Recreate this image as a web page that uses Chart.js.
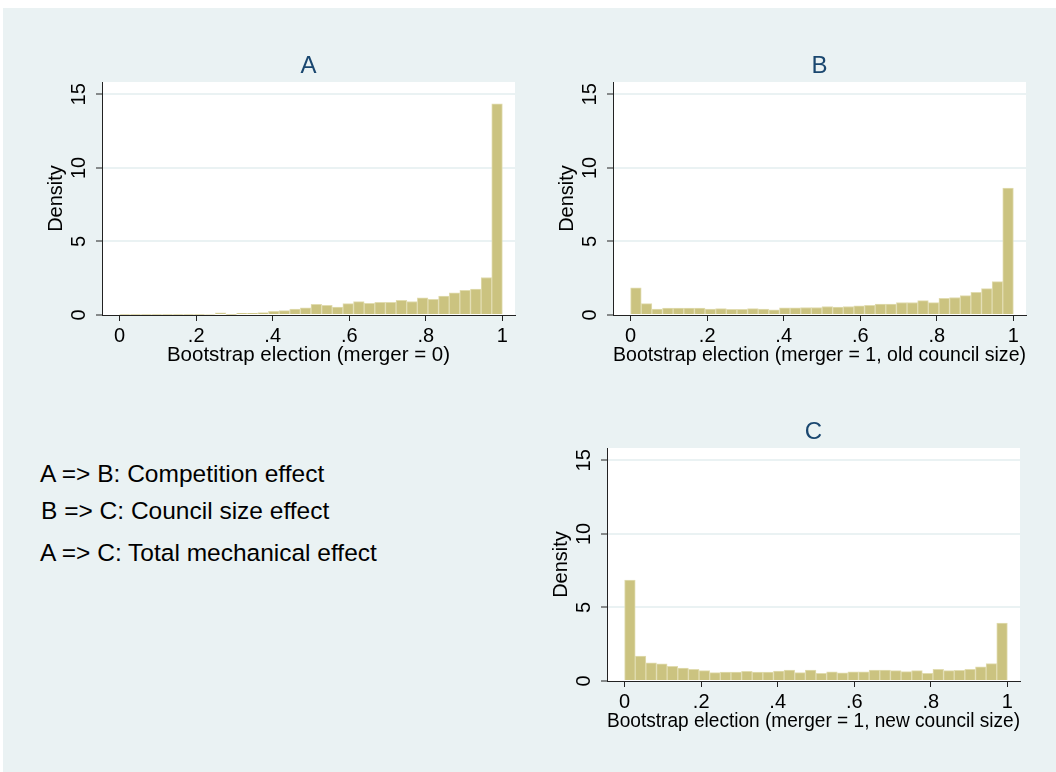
<!DOCTYPE html>
<html>
<head>
<meta charset="utf-8">
<script src="https://cdn.jsdelivr.net/npm/chart.js@4.4.1/dist/chart.umd.min.js"></script>
<style>
  html, body { margin: 0; padding: 0; background: #fff; }
  #page { position: relative; width: 1056px; height: 772px; overflow: hidden; }
  #bg { position: absolute; left: 3px; top: 8px; right: 0; bottom: 0; background: #eaf2f3; }
  canvas { position: absolute; }
  .note { position: absolute; font-family: 'Liberation Sans', Arial, sans-serif; font-size: 24.5px;
          line-height: 24.5px; color: #000; white-space: nowrap; }
</style>
</head>
<body>
<div id="page">
  <div id="bg"></div>
  <canvas id="histA" width="510" height="350" style="left:20px;top:30px"></canvas>
  <canvas id="histB" width="510" height="350" style="left:531px;top:30px"></canvas>
  <canvas id="histC" width="510" height="350" style="left:525px;top:396px"></canvas>
  <div class="note" style="left:40px;top:462px">A =&gt; B: Competition effect</div>
  <div class="note" style="left:41px;top:499px">B =&gt; C: Council size effect</div>
  <div class="note" style="left:40px;top:541px">A =&gt; C: Total mechanical effect</div>
</div>
<script>
// 36 equal bins on [0, 1]
const binCount = 36;
const binCenters = Array.from({ length: binCount }, (_, i) => (i + 0.5) / binCount);

const densityA = [0.04, 0.04, 0.04, 0.04, 0.04, 0.04, 0.04, 0.04, 0.05, 0.14, 0.04, 0.11,
                  0.11, 0.16, 0.25, 0.30, 0.41, 0.49, 0.72, 0.66, 0.53, 0.77, 0.91, 0.79,
                  0.86, 0.86, 1.00, 0.92, 1.16, 1.06, 1.29, 1.51, 1.68, 1.77, 2.55, 14.35];
const densityB = [1.84, 0.77, 0.41, 0.47, 0.47, 0.47, 0.47, 0.40, 0.43, 0.38, 0.38, 0.43,
                  0.40, 0.35, 0.48, 0.48, 0.51, 0.51, 0.58, 0.53, 0.58, 0.63, 0.66, 0.75,
                  0.75, 0.85, 0.85, 0.98, 0.84, 1.13, 1.19, 1.32, 1.54, 1.79, 2.27, 8.62];
const densityC = [6.86, 1.69, 1.23, 1.17, 1.00, 0.88, 0.79, 0.71, 0.57, 0.61, 0.61, 0.66,
                  0.61, 0.61, 0.67, 0.75, 0.57, 0.75, 0.52, 0.62, 0.56, 0.62, 0.62, 0.74,
                  0.74, 0.70, 0.64, 0.70, 0.52, 0.79, 0.70, 0.73, 0.79, 0.97, 1.18, 3.93];

const xTickValues = [0, 0.2, 0.4, 0.6, 0.8, 1];
const xTickLabels = ['0', '.2', '.4', '.6', '.8', '1'];
const yTickValues = [0, 5, 10, 15];
const yTickLabels = ['0', '5', '10', '15'];

const X_MIN = -0.046, X_MAX = 1.033, Y_MAX = 15.84;

const barFill   = 'rgb(203,195,128)';
const barEdge   = 'rgb(225,220,176)';
const gridColor = '#eaf2f3';
const axisColor = '#222';
const titleNavy = '#1a476f';

Chart.defaults.font.family = "'Liberation Sans', Arial, sans-serif";
Chart.defaults.color = '#000';

// white plot region, rotated y labels and the panel letter (Stata look)
const stataLook = {
  id: 'stataLook',
  beforeDraw(chart) {
    const { ctx, chartArea: a } = chart;
    ctx.save();
    ctx.fillStyle = '#fff';
    ctx.fillRect(a.left, a.top, a.right - a.left, a.bottom - a.top);
    ctx.restore();
  },
  afterDraw(chart, args, opts) {
    const { ctx, chartArea: a } = chart;
    const y = chart.scales.y;
    ctx.save();
    ctx.fillStyle = '#000';
    ctx.font = "20px 'Liberation Sans', Arial, sans-serif";
    ctx.textAlign = 'center';
    ctx.textBaseline = 'middle';
    y.ticks.forEach((t, i) => {
      ctx.save();
      ctx.translate(a.left - 23, y.getPixelForValue(t.value));
      ctx.rotate(-Math.PI / 2);
      ctx.fillText(yTickLabels[i], 0, 0);
      ctx.restore();
    });
    ctx.fillStyle = titleNavy;
    ctx.font = "24px 'Liberation Sans', Arial, sans-serif";
    ctx.textBaseline = 'alphabetic';
    ctx.fillText(opts.title, (a.left + a.right) / 2, a.top - 9);
    ctx.restore();
  }
};

function histogram(id, title, xTitle, values) {
  return new Chart(document.getElementById(id), {
    type: 'bar',
    data: {
      datasets: [{
        data: binCenters.map((x, i) => ({ x, y: values[i] })),
        backgroundColor: barFill, borderColor: barEdge, borderWidth: 1,
        barPercentage: 1, categoryPercentage: 1,
      }],
    },
    options: {
      responsive: false, animation: false, devicePixelRatio: 1,
      layout: { padding: { top: 52, right: 15, left: 0, bottom: 0 } },
      plugins: { legend: { display: false }, tooltip: { enabled: false }, stataLook: { title } },
      scales: {
        x: {
          type: 'linear', min: X_MIN, max: X_MAX, offset: false,
          afterBuildTicks: s => { s.ticks = xTickValues.map(v => ({ value: v })); },
          afterFit: s => { s.height = 65; },
          ticks: { callback: (v, i) => xTickLabels[i], font: { size: 20 }, padding: 3, maxRotation: 0, autoSkip: false },
          grid: { display: true, drawOnChartArea: false, drawTicks: true, tickLength: 6, tickColor: axisColor, tickWidth: 1, offset: false },
          border: { color: axisColor, width: 1 },
          title: { display: true, text: xTitle, font: { size: 20.5 }, padding: { top: 0, bottom: 12 } },
        },
        y: {
          min: 0, max: Y_MAX,
          afterBuildTicks: s => { s.ticks = yTickValues.map(v => ({ value: v })); },
          afterFit: s => { s.width = 82; },
          ticks: { display: false },
          grid: {
            color: c => (c.tick && c.tick.value === 0 ? 'rgba(0,0,0,0)' : gridColor),
            lineWidth: 2, tickLength: 6, tickColor: axisColor, tickWidth: 1,
          },
          border: { color: axisColor, width: 1 },
          title: { display: true, text: 'Density', font: { size: 20 }, padding: { top: 24, bottom: 0 } },
        },
      },
    },
    plugins: [stataLook],
  });
}

histogram('histA', 'A', 'Bootstrap election (merger = 0)', densityA);
histogram('histB', 'B', 'Bootstrap election (merger = 1, old council size)', densityB);
histogram('histC', 'C', 'Bootstrap election (merger = 1, new council size)', densityC);
</script>
</body>
</html>
